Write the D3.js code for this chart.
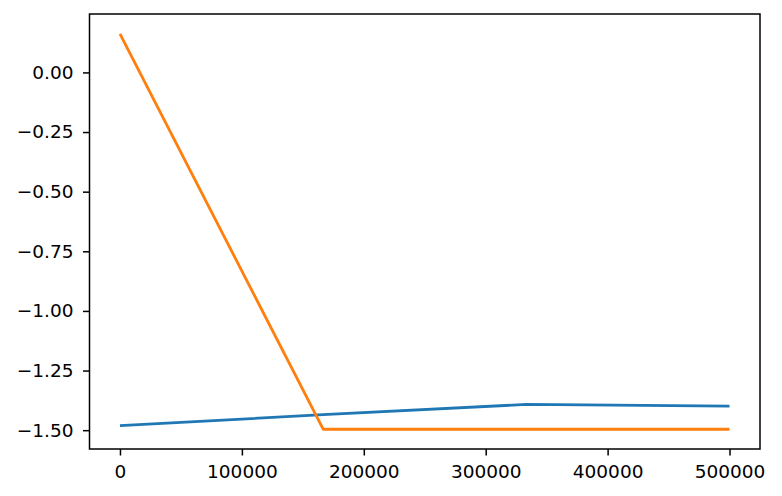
<!DOCTYPE html>
<html>
<head>
<meta charset="utf-8">
<script src="https://cdn.jsdelivr.net/npm/d3@7"></script>
<style>
  body { margin: 0; background: white; }
  text { font-family: "DejaVu Sans", sans-serif; }
</style>
</head>
<body>
<div id="chart"></div>
<script>
// data
const steps = [0, 166667, 333333, 500000]
const blueValues = [-1.481, -1.435, -1.392, -1.399]
const orangeValues = [0.162, -1.496, -1.496, -1.496]
const xTicks = [0, 100000, 200000, 300000, 400000, 500000]
const yTicks = [0, -0.25, -0.5, -0.75, -1.0, -1.25, -1.5]

const totalWidth = 782
const totalHeight = 496
const margin = { top: 14, right: 22, bottom: 47, left: 89.5 }
const width = 760 - margin.left
const height = 449 - margin.top
const fontSize = 18.5

const svg = d3.select('#chart')
    .append('svg')
    .attr('width', totalWidth)
    .attr('height', totalHeight)

const g = svg.append('g')
    .attr('transform', `translate(${margin.left},${margin.top})`)

// matplotlib style 5% margins
const xPad = (d3.max(steps) - d3.min(steps)) * 0.05
const allY = blueValues.concat(orangeValues)
const yPad = (d3.max(allY) - d3.min(allY)) * 0.05

const x = d3.scaleLinear()
    .domain([d3.min(steps) - xPad, d3.max(steps) + xPad])
    .range([0, width])
const y = d3.scaleLinear()
    .domain([d3.min(allY) - yPad, d3.max(allY) + yPad])
    .range([height, 0])

const minus = s => s.replace('-', '\u2212')

const xAxis = g.append('g')
    .attr('transform', `translate(0,${height})`)
    .call(d3.axisBottom(x).tickValues(xTicks).tickFormat(d3.format('d'))
        .tickSizeInner(6.5).tickSizeOuter(0).tickPadding(9))
const yAxis = g.append('g')
    .call(d3.axisLeft(y).tickValues(yTicks).tickFormat(d => minus(d3.format('.2f')(d)))
        .tickSizeInner(6.5).tickSizeOuter(0).tickPadding(9.5))

for (const ax of [xAxis, yAxis]) {
    ax.select('.domain').remove()
    ax.selectAll('.tick line').attr('stroke', '#000').attr('stroke-width', 1.5)
    ax.selectAll('.tick text')
        .attr('fill', '#000')
        .style('font-size', fontSize + 'px')
        .style('font-family', '"DejaVu Sans", sans-serif')
}

const lineGen = d3.line()
    .x(d => x(d[0]))
    .y(d => y(d[1]))

const series = [
    { values: blueValues, color: '#1f77b4' },
    { values: orangeValues, color: '#ff7f0e' }
]

g.selectAll('path.series')
    .data(series)
    .enter()
    .append('path')
    .attr('class', 'series')
    .attr('d', s => lineGen(d3.zip(steps, s.values)))
    .attr('fill', 'none')
    .attr('stroke', s => s.color)
    .attr('stroke-width', 2.8)
    .attr('stroke-linejoin', 'round')
    .attr('stroke-linecap', 'butt')

// frame
g.append('rect')
    .attr('width', width)
    .attr('height', height)
    .attr('fill', 'none')
    .attr('stroke', '#000')
    .attr('stroke-width', 1.5)
</script>
</body>
</html>
